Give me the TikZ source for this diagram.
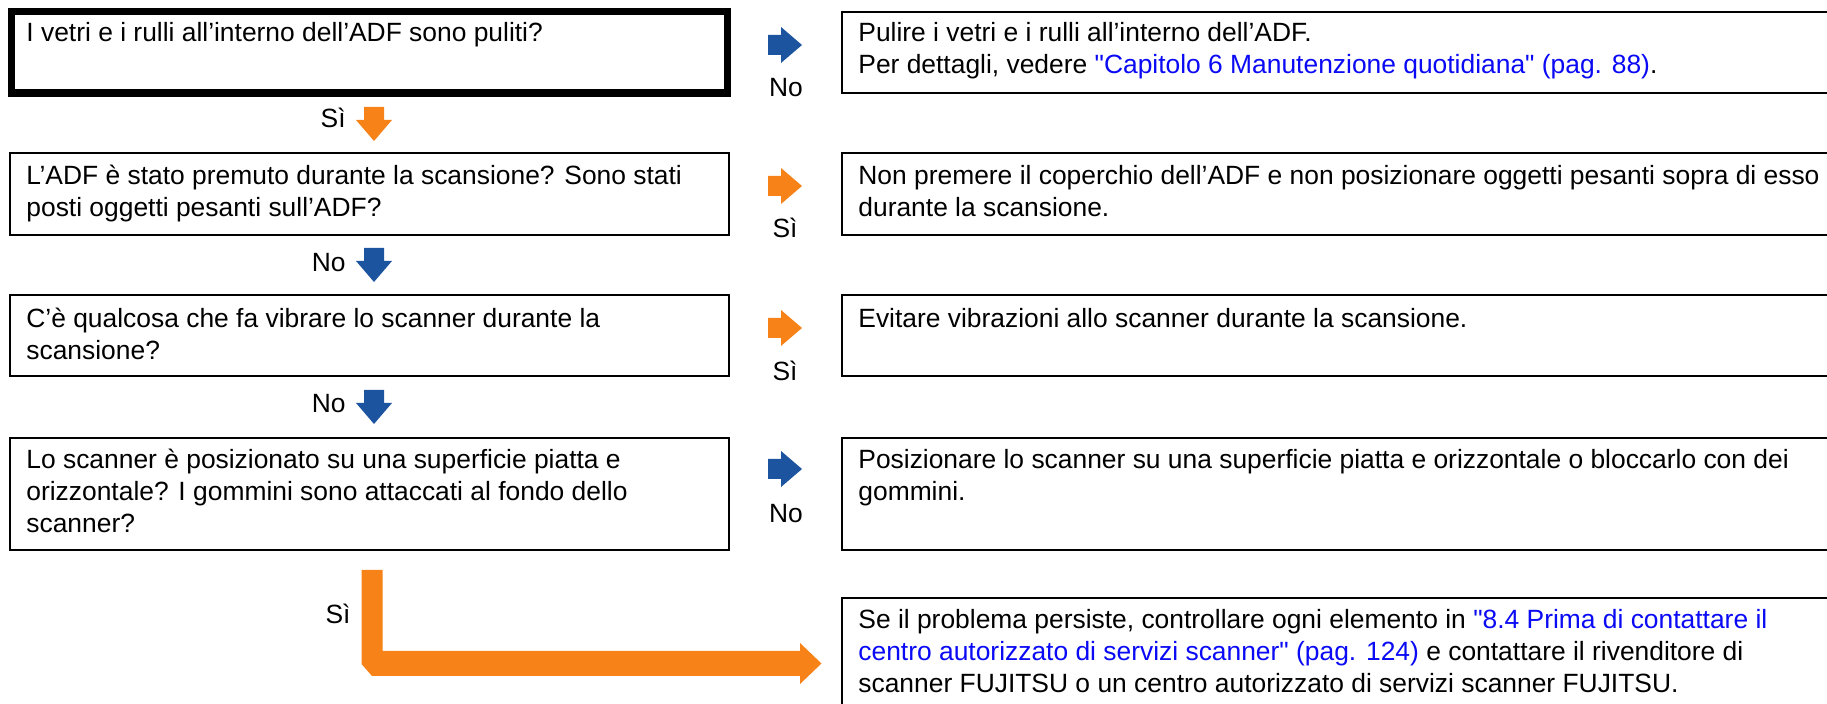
\documentclass[tikz,border=0pt]{standalone}
\usepackage{fontspec}
\setmainfont{Liberation Sans}[Ligatures=TeXOff]
\definecolor{arrorange}{RGB}{246,130,24}
\definecolor{arrblue}{RGB}{28,84,160}
\definecolor{linkblue}{RGB}{10,10,245}
\newcommand\lnk[1]{\textcolor{linkblue}{#1}}
\tikzset{
  box/.style={draw=black, line width=1pt},
  thickbox/.style={draw=black, line width=3.75pt},
  txt/.style={anchor=north west, inner sep=0pt, align=left, font=\fontsize{13.2}{16}\selectfont},
  lbl/.style={anchor=base, inner sep=0pt, font=\fontsize{13.2}{16}\selectfont},
  lbll/.style={anchor=base east, inner sep=0pt, font=\fontsize{13.2}{16}\selectfont},
  rarr/.pic={\path[pic actions] (0,-10) -- (13,-10) -- (13,-18) -- (34,0) -- (13,18) -- (13,10) -- (0,10) -- cycle;},
  darr/.pic={\path[pic actions] (-10,0) -- (10,0) -- (10,13) -- (18,13) -- (0,34) -- (-18,13) -- (-10,13) -- cycle;}
}
\begin{document}
\begin{tikzpicture}[x=0.5pt,y=-0.5pt]
\clip (0,0) rectangle (1827,704);
\fill[white] (0,0) rectangle (1827,704);

% left question boxes
\draw[thickbox] (11.5,11.5) rectangle (727.5,93);
\draw[box] (10,153) rectangle (729,235);
\draw[box] (10,295) rectangle (729,376);
\draw[box] (10,438) rectangle (729,550);

% right answer boxes
\draw[box] (842,12) rectangle (1840,93);
\draw[box] (842,153) rectangle (1840,235);
\draw[box] (842,295) rectangle (1840,376);
\draw[box] (842,438) rectangle (1840,550);
\draw[box] (842,598) rectangle (1840,720);

% texts
\node[txt] (q1) at (26,19) {\strut I vetri e i rulli all’interno dell’ADF sono puliti?};
\node[txt] (q2) at (26,162) {\strut L’ADF è stato premuto durante la scansione? Sono stati\\posti oggetti pesanti sull’ADF?};
\node[txt] (q3) at (26,305) {\strut C’è qualcosa che fa vibrare lo scanner durante la\\scansione?};
\node[txt] (q4) at (26,446) {\strut Lo scanner è posizionato su una superficie piatta e\\orizzontale? I gommini sono attaccati al fondo dello\\scanner?};

\node[txt] (a1) at (858,19) {\strut Pulire i vetri e i rulli all’interno dell’ADF.\\Per dettagli, vedere \lnk{"Capitolo 6 Manutenzione quotidiana" (pag. 88)}.};
\node[txt] (a2) at (858,162) {\strut Non premere il coperchio dell’ADF e non posizionare oggetti pesanti sopra di esso\\durante la scansione.};
\node[txt] (a3) at (858,305) {\strut Evitare vibrazioni allo scanner durante la scansione.};
\node[txt] (a4) at (858,446) {\strut Posizionare lo scanner su una superficie piatta e orizzontale o bloccarlo con dei\\gommini.};
\node[txt] (a5) at (858,606) {\strut Se il problema persiste, controllare ogni elemento in \lnk{"8.4 Prima di contattare il}\\\lnk{centro autorizzato di servizi scanner" (pag. 124)} e contattare il rivenditore di\\scanner FUJITSU o un centro autorizzato di servizi scanner FUJITSU.};

% side arrows and labels
\pic[fill=arrblue] at (768,45) {rarr};
\node[lbl] (l1) at (786,97) {No};
\pic[fill=arrorange] at (768,186) {rarr};
\node[lbl] (l2) at (785,238) {Sì};
\pic[fill=arrorange] at (768,328) {rarr};
\node[lbl] (l3) at (785,381) {Sì};
\pic[fill=arrblue] at (768,469) {rarr};
\node[lbl] (l4) at (786,523) {No};

% down arrows and labels
\pic[fill=arrorange] at (374,107) {darr};
\node[lbll] (d1) at (346,128) {Sì};
\pic[fill=arrblue] at (374,248) {darr};
\node[lbll] (d2) at (346,272) {No};
\pic[fill=arrblue] at (374,390) {darr};
\node[lbll] (d3) at (346,413) {No};

% L-shaped arrow
\fill[arrorange] (361.5,570) -- (382.5,570) -- (382.5,651) -- (800,651) -- (800,643)
  -- (821.5,663.5) -- (800,684) -- (800,676) -- (372,676) -- (361.5,664) -- cycle;
\node[lbl] (d4) at (338,624) {Sì};
\end{tikzpicture}
\end{document}
